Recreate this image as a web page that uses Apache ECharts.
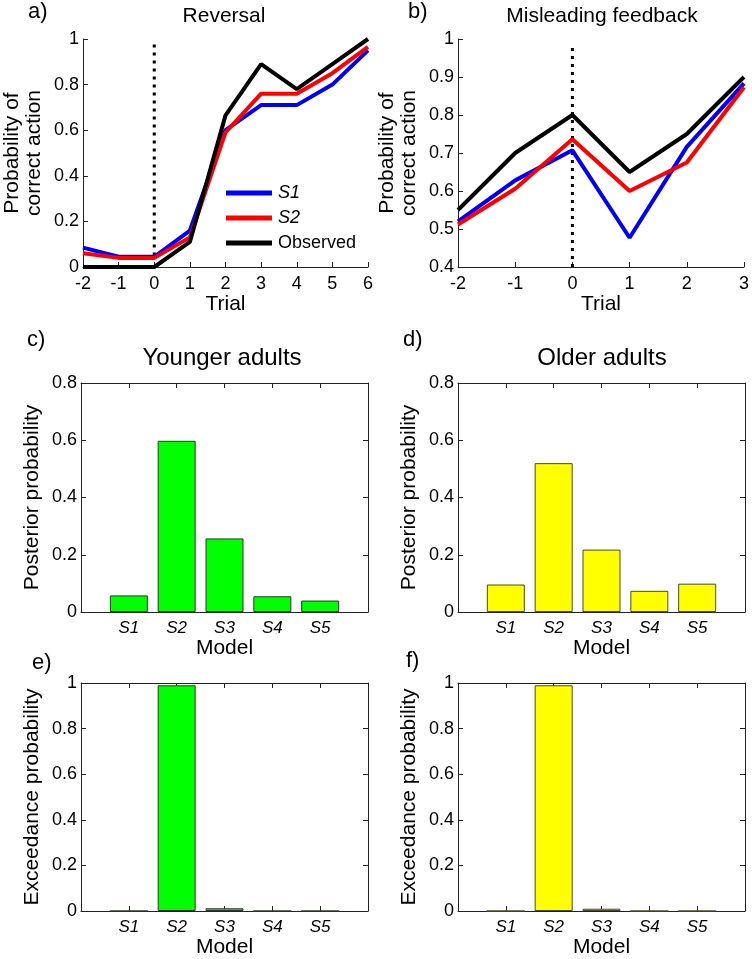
<!DOCTYPE html>
<html>
<head>
<meta charset="utf-8">
<title>Model comparison</title>
<script src="https://cdn.jsdelivr.net/npm/echarts@6/dist/echarts.min.js"></script>
<style>
  html, body { margin: 0; padding: 0; background: #fff; }
  #chart { width: 752px; height: 959px; }
</style>
</head>
<body>
<div id="chart"></div>
<script>
// ==============================
// data
// ==============================
const reversalTrials = [-2, -1, 0, 1, 2, 3, 4, 5, 6];
const reversalS1 = [0.085, 0.045, 0.045, 0.16, 0.60, 0.71, 0.71, 0.80, 0.95];
const reversalS2 = [0.06, 0.04, 0.04, 0.13, 0.59, 0.76, 0.76, 0.85, 0.965];
const reversalObserved = [0, 0, 0, 0.11, 0.665, 0.89, 0.78, 0.89, 1.0];

const misleadTrials = [-2, -1, 0, 1, 2, 3];
const misleadS1 = [0.52, 0.628, 0.707, 0.477, 0.716, 0.883];
const misleadS2 = [0.512, 0.606, 0.736, 0.60, 0.675, 0.873];
const misleadObserved = [0.55, 0.70, 0.80, 0.65, 0.75, 0.90];

const models = ['S1', 'S2', 'S3', 'S4', 'S5'];
const youngerPosterior = [0.058, 0.598, 0.257, 0.055, 0.040];
const olderPosterior = [0.096, 0.52, 0.218, 0.074, 0.099];
const youngerExceedance = [0, 0.99, 0.012, 0, 0];
const olderExceedance = [0, 0.99, 0.01, 0, 0];

// dotted marker at the switch trial
const switchTrial = 0;
const switchSpanA = [0.05, 0.98];
const switchSpanB = [0.4, 0.98];

const FONT = '"Liberation Sans", Arial, sans-serif';
const AXIS_COLOR = '#222';
const GREEN = '#00ff00';
const YELLOW = '#ffff00';

const grids = [
  { left: 81, top: 39, width: 287, height: 228 },   // a
  { left: 458, top: 39, width: 287, height: 228 },  // b
  { left: 81, top: 383, width: 287, height: 229 },  // c
  { left: 458, top: 383, width: 287, height: 229 }, // d
  { left: 81, top: 683, width: 287, height: 229 },  // e
  { left: 458, top: 683, width: 287, height: 229 }  // f
];


// ==============================
// helpers
// ==============================
function oneDecimal(v) {
  return String(Math.round(v * 10) / 10);
}

function axis(extra) {
  return Object.assign({
    type: 'value',
    axisLine: { show: true, onZero: false, lineStyle: { color: AXIS_COLOR, width: 1 } },
    axisTick: { show: true, inside: true, length: 5, lineStyle: { color: AXIS_COLOR } },
    splitLine: { show: false },
    axisLabel: { color: '#000', fontFamily: FONT, fontSize: 18 },
    nameTextStyle: { color: '#000', fontFamily: FONT, fontSize: 21 }
  }, extra);
}

function modelLabel(v) {
  return models[v - 1] || '';
}

function lineSeries(name, xs, ys, color, idx) {
  return {
    type: 'line',
    name,
    xAxisIndex: idx,
    yAxisIndex: idx,
    data: xs.map((x, i) => [x, ys[i]]),
    symbol: 'none',
    lineStyle: { color, width: 4 },
    itemStyle: { color },
    z: 3
  };
}

function markerSeries(span, idx) {
  return {
    type: 'line',
    name: 'switch',
    xAxisIndex: idx,
    yAxisIndex: idx,
    data: span.map(y => [switchTrial, y]),
    symbol: 'none',
    silent: true,
    lineStyle: { color: '#000', width: 3, type: [3, 5] },
    z: 2
  };
}

function barSeries(vals, color, border, idx) {
  return {
    type: 'bar',
    xAxisIndex: idx,
    yAxisIndex: idx,
    data: vals.map((v, i) => [i + 1, v]),
    barWidth: 38,
    itemStyle: { color, borderColor: border, borderWidth: 1 }
  };
}


// ==============================
// axes
// ==============================
const probName = 'Probability of\ncorrect action';
const probNameStyle = { color: '#000', fontFamily: FONT, fontSize: 21, lineHeight: 22 };

const xAxes = [
  axis({ gridIndex: 0, min: -2, max: 6, interval: 1, name: 'Trial', nameLocation: 'middle', nameGap: 25 }),
  axis({ gridIndex: 1, min: -2, max: 3, interval: 1, name: 'Trial', nameLocation: 'middle', nameGap: 25 })
];
const yAxes = [
  axis({
    gridIndex: 0, min: 0, max: 1, interval: 0.2,
    name: probName, nameLocation: 'middle', nameGap: 38, nameTextStyle: probNameStyle,
    axisLabel: { color: '#000', fontFamily: FONT, fontSize: 18, margin: 4, formatter: oneDecimal }
  }),
  axis({
    gridIndex: 1, min: 0.4, max: 1, interval: 0.1,
    name: probName, nameLocation: 'middle', nameGap: 38, nameTextStyle: probNameStyle,
    axisLabel: { color: '#000', fontFamily: FONT, fontSize: 18, margin: 4, formatter: oneDecimal }
  })
];

// bar panels: bottom/left axes first, then the top/right box axes
const barPanels = [
  { grid: 2, max: 0.8, yName: 'Posterior probability' },
  { grid: 3, max: 0.8, yName: 'Posterior probability' },
  { grid: 4, max: 1, yName: 'Exceedance probability' },
  { grid: 5, max: 1, yName: 'Exceedance probability' }
];

barPanels.forEach(p => {
  xAxes.push(axis({
    gridIndex: p.grid, min: 0, max: 6, interval: 1,
    name: 'Model', nameLocation: 'middle', nameGap: 26,
    axisLabel: { color: '#000', fontFamily: FONT, fontSize: 17, fontStyle: 'italic', margin: 8, formatter: modelLabel }
  }));
  yAxes.push(axis({
    gridIndex: p.grid, min: 0, max: p.max, interval: 0.2,
    name: p.yName, nameLocation: 'middle', nameGap: 38,
    axisLabel: { color: '#000', fontFamily: FONT, fontSize: 18, margin: 4, formatter: oneDecimal }
  }));
});

barPanels.forEach(p => {
  xAxes.push(axis({
    gridIndex: p.grid, position: 'top', min: 0, max: 6, interval: 1,
    axisLabel: { show: false }
  }));
  yAxes.push(axis({
    gridIndex: p.grid, position: 'right', min: 0, max: p.max, interval: 0.2,
    axisLabel: { show: false }
  }));
});


// ==============================
// titles
// ==============================
const lineTitleStyle = { color: '#000', fontFamily: FONT, fontSize: 21, fontWeight: 'normal' };
const barTitleStyle = { color: '#000', fontFamily: FONT, fontSize: 24, fontWeight: 'normal' };
const tagStyle = { color: '#000', fontFamily: FONT, fontSize: 22, fontWeight: 'normal' };

const titles = [
  { text: 'a)', left: 28, top: 1, textStyle: tagStyle },
  { text: 'b)', left: 408, top: 1, textStyle: tagStyle },
  { text: 'c)', left: 27, top: 329, textStyle: tagStyle },
  { text: 'd)', left: 403, top: 329, textStyle: tagStyle },
  { text: 'e)', left: 32, top: 652, textStyle: tagStyle },
  { text: 'f)', left: 406, top: 650, textStyle: tagStyle },
  { text: 'Reversal', left: 224, top: 6, textAlign: 'center', textStyle: lineTitleStyle },
  { text: 'Misleading feedback', left: 602, top: 6, textAlign: 'center', textStyle: lineTitleStyle },
  { text: 'Younger adults', left: 222, top: 346, textAlign: 'center', textStyle: barTitleStyle },
  { text: 'Older adults', left: 602, top: 346, textAlign: 'center', textStyle: barTitleStyle }
].map(t => Object.assign({ padding: 0 }, t));


// ==============================
// chart
// ==============================
const chart = echarts.init(document.getElementById('chart'));

chart.setOption({
  animation: false,
  backgroundColor: '#fff',
  title: titles,
  grid: grids,
  xAxis: xAxes,
  yAxis: yAxes,
  legend: {
    data: ['S1', 'S2', 'Observed'],
    orient: 'vertical',
    left: 226,
    top: 184,
    padding: 0,
    icon: 'rect',
    itemWidth: 46,
    itemHeight: 5,
    itemGap: 7,
    selectedMode: false,
    textStyle: {
      color: '#000', fontFamily: FONT, fontSize: 18, padding: [0, 0, 0, 1],
      rich: { i: { fontStyle: 'italic', fontFamily: FONT, fontSize: 18, color: '#000' } }
    },
    formatter: name => (name === 'Observed' ? name : `{i|${name}}`)
  },
  series: [
    markerSeries(switchSpanA, 0),
    lineSeries('S1', reversalTrials, reversalS1, '#0000ff', 0),
    lineSeries('S2', reversalTrials, reversalS2, '#ff0000', 0),
    lineSeries('Observed', reversalTrials, reversalObserved, '#000000', 0),

    markerSeries(switchSpanB, 1),
    lineSeries('S1', misleadTrials, misleadS1, '#0000ff', 1),
    lineSeries('S2', misleadTrials, misleadS2, '#ff0000', 1),
    lineSeries('Observed', misleadTrials, misleadObserved, '#000000', 1),

    barSeries(youngerPosterior, GREEN, '#2b3a2b', 2),
    barSeries(olderPosterior, YELLOW, '#4a4a2a', 3),
    barSeries(youngerExceedance, GREEN, '#2b3a2b', 4),
    barSeries(olderExceedance, YELLOW, '#4a4a2a', 5)
  ]
});
</script>
</body>
</html>
